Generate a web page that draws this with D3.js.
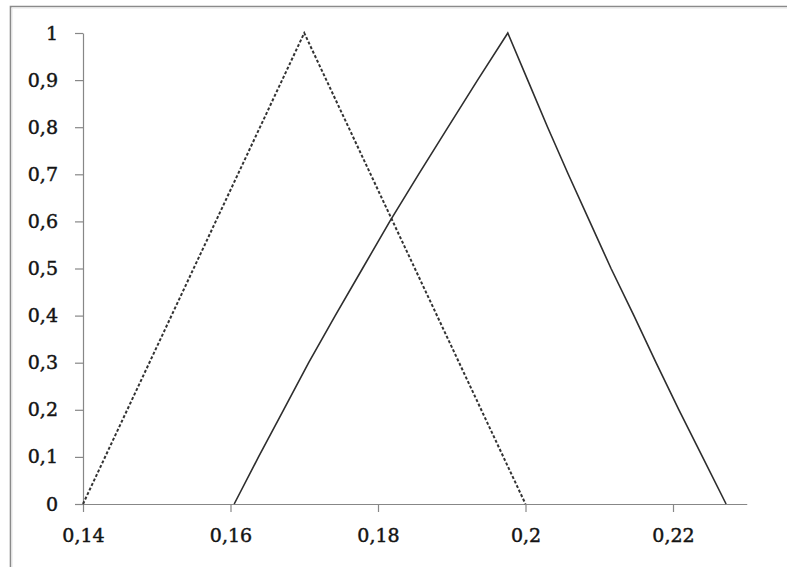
<!DOCTYPE html>
<html>
<head>
<meta charset="utf-8">
<script src="https://cdn.jsdelivr.net/npm/d3@7"></script>
<style>
  html, body { margin: 0; padding: 0; background: #fff; }
  svg { display: block; }
  .tick text { font-family: "DejaVu Serif", serif; font-size: 19px; fill: #141414; stroke: #141414; stroke-width: 0.45px; }
</style>
</head>
<body>
<script>
// Membership levels (alpha-cuts) and axis ticks
const alphaLevels = [0, 0.1, 0.2, 0.3, 0.4, 0.5, 0.6, 0.7, 0.8, 0.9, 1];
const xTicks = [0.14, 0.16, 0.18, 0.2, 0.22];
const yTicks = [0, 0.1, 0.2, 0.3, 0.4, 0.5, 0.6, 0.7, 0.8, 0.9, 1];

// Triangular fuzzy number (dashed): support 0,14 – 0,2, core 0,17
const dashedX = [0.14, 0.17, 0.2];
const dashedY = [0, 1, 0];

// Resulting fuzzy number (solid): left and right bounds per alpha level
const solidLeftX  = [0.1605, 0.1638, 0.1672, 0.1706, 0.1742, 0.1779, 0.1816, 0.1855, 0.1895, 0.1935, 0.1976];
const solidRightX = [0.2272, 0.2240, 0.2208, 0.2177, 0.2147, 0.2116, 0.2087, 0.2058, 0.2030, 0.2003, 0.1976];

const W = 787, H = 567;
const svg = d3.select("body").append("svg").attr("width", W).attr("height", H);

// Frame (left and top edges)
svg.append("path")
  .attr("d", `M10.5,${H} V6.5 H${W}`)
  .attr("fill", "none").attr("stroke", "#8a8a8a").attr("stroke-width", 1.6);
svg.append("path")
  .attr("d", `M12,${H} V8 H${W}`)
  .attr("fill", "none").attr("stroke", "#e6e6e6").attr("stroke-width", 1);

const x = d3.scaleLinear().domain([0.14, 0.23]).range([83, 746.75]);
const y = d3.scaleLinear().domain([0, 1]).range([504, 33]);

const loc = d3.formatLocale({ decimal: ",", thousands: " ", grouping: [3], currency: ["", ""] });
const fmt = loc.format("~g");

// Axes
const xAxis = svg.append("g").attr("transform", `translate(0,${y(0)})`)
  .call(d3.axisBottom(x).tickValues(xTicks).tickFormat(fmt).tickSizeInner(8).tickSizeOuter(0).tickPadding(17));
const yAxis = svg.append("g").attr("transform", `translate(${x(0.14)},0)`)
  .call(d3.axisLeft(y).tickValues(yTicks).tickFormat(fmt).tickSizeInner(8).tickSizeOuter(0).tickPadding(17));
[xAxis, yAxis].forEach(g => {
  g.select(".domain").attr("stroke", "#878787").attr("stroke-width", 1.2);
  g.selectAll(".tick line").attr("stroke", "#878787").attr("stroke-width", 1.2);
});

const line = d3.line().x(d => x(d[0])).y(d => y(d[1]));

// Dashed triangle
svg.append("path")
  .datum(dashedX.map((v, i) => [v, dashedY[i]]))
  .attr("d", line)
  .attr("fill", "none").attr("stroke", "#333").attr("stroke-width", 2)
  .attr("stroke-dasharray", "3,2");

// Solid shape: up the left bounds, then down the right bounds
const solidPts = alphaLevels.map((a, i) => [solidLeftX[i], a])
  .concat(alphaLevels.map((a, i) => [solidRightX[i], a]).reverse().slice(1));
svg.append("path")
  .datum(solidPts)
  .attr("d", line)
  .attr("fill", "none").attr("stroke", "#2e2e2e").attr("stroke-width", 1.6)
  .attr("stroke-linejoin", "miter");
</script>
</body>
</html>
